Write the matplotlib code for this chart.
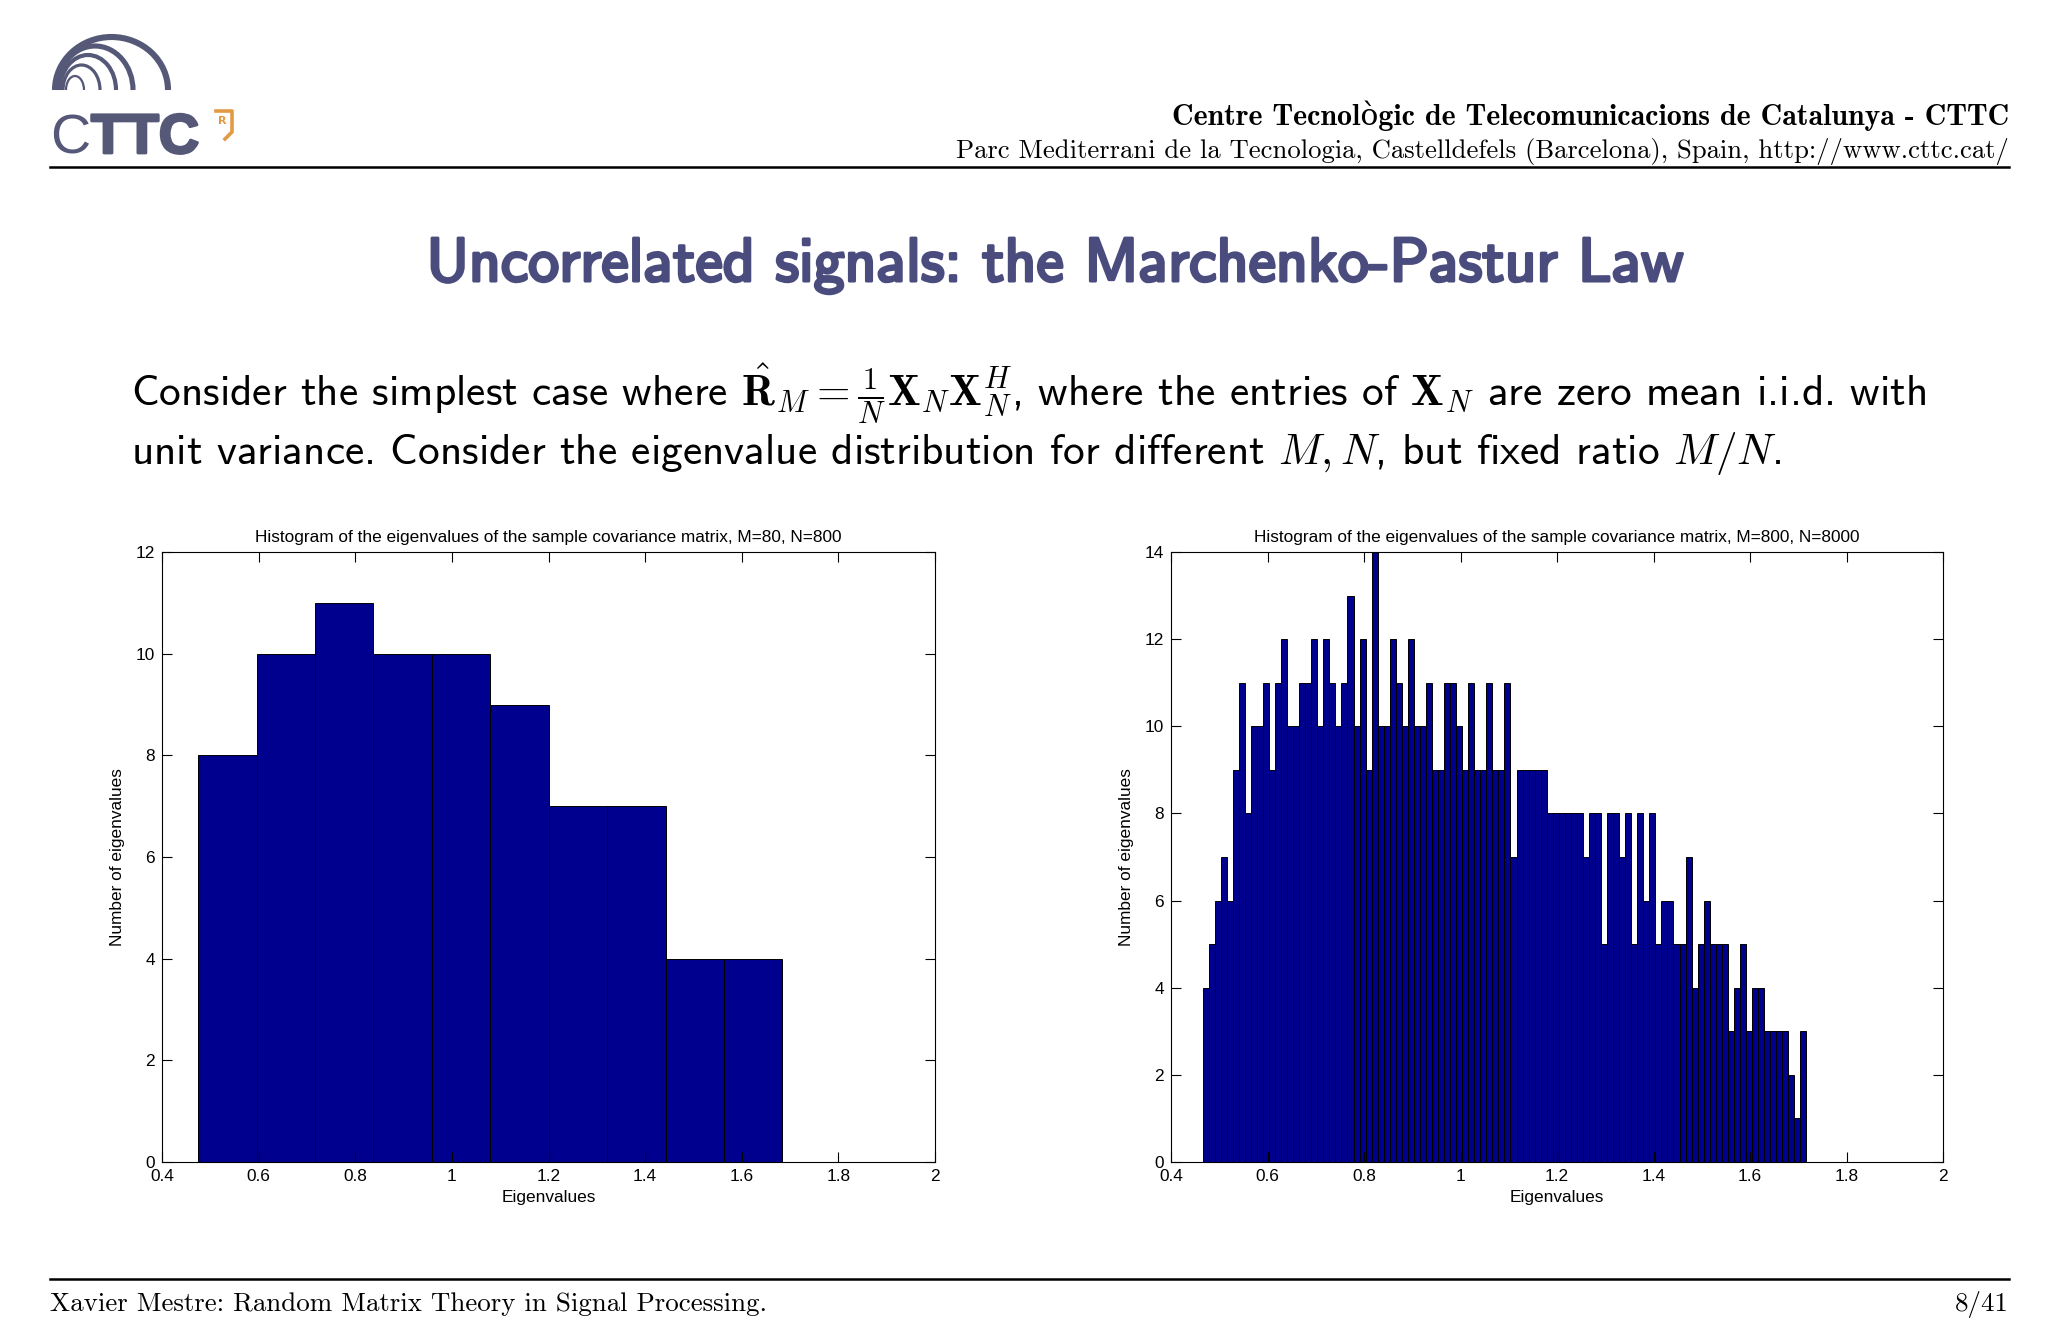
import numpy as np
import matplotlib
matplotlib.use('Agg')
import matplotlib.pyplot as plt
from matplotlib.lines import Line2D
from matplotlib.patches import Arc
from matplotlib.ticker import FuncFormatter, MultipleLocator
import matplotlib.patheffects as pe

plt.rcParams['mathtext.fontset'] = 'cm'

W, H = 2048, 1340

# histogram data
left_counts = [8, 10, 11, 10, 10, 9, 7, 7, 4, 4]
left_lo, left_hi = 0.475, 1.684

right_counts = [4, 5, 6, 7, 6, 9, 11, 8, 10, 10,
                11, 9, 11, 12, 10, 10, 11, 11, 12, 10,
                12, 11, 10, 11, 13, 10, 12, 9, 14, 10,
                10, 12, 11, 10, 12, 10, 10, 11, 9, 9,
                11, 11, 10, 9, 11, 9, 9, 11, 9, 9,
                11, 7, 9, 9, 9, 9, 9, 8, 8, 8,
                8, 8, 8, 7, 8, 8, 5, 8, 8, 7,
                8, 5, 8, 6, 8, 5, 6, 6, 5, 5,
                7, 4, 5, 6, 5, 5, 5, 3, 4, 5,
                3, 4, 4, 3, 3, 3, 3, 2, 1, 3]
right_lo, right_hi = 0.4655, 1.7167

left_title = 'Histogram of the eigenvalues of the sample covariance matrix, M=80, N=800'
right_title = 'Histogram of the eigenvalues of the sample covariance matrix, M=800, N=8000'
x_ticks = [0.4, 0.6, 0.8, 1.0, 1.2, 1.4, 1.6, 1.8, 2.0]

bar_color = '#00008f'
title_color = '#4b4c7e'
logo_color = '#555877'
orange = '#e39a45'


def fx(x):
    return x / W


def fy(y):
    return 1 - y / H


def box(x0, y0, x1, y1):
    return [fx(x0), fy(y1), (x1 - x0) / W, (y1 - y0) / H]


fig = plt.figure(figsize=(W / 100, H / 100), dpi=100)

# ---- header ----
lax = fig.add_axes(box(40, 20, 260, 170))
lax.set_xlim(40, 260)
lax.set_ylim(170, 20)
lax.axis('off')
arcs = [(66, 84, 76), (63, 100, 65), (60, 116, 55), (57, 133, 46), (55, 168, 37)]
for i, (l, r, t) in enumerate(arcs):
    cx = (l + r) / 2
    lax.add_patch(Arc((cx, 90), r - l, 2 * (90 - t), theta1=180, theta2=360,
                      color=logo_color, lw=1.6 + 0.7 * i))
lax.text(50, 153, 'C', fontsize=40, family='Liberation Sans', color=logo_color, va='baseline')
lax.text(91, 153, 'TTC', fontsize=40, family='Liberation Sans', weight='bold',
         color=logo_color, va='baseline',
         path_effects=[pe.withStroke(linewidth=2.0, foreground=logo_color)])
lax.text(218, 124, 'R', fontsize=8, family='DejaVu Sans', weight='bold', color=orange,
         va='baseline')
lax.plot([216, 232, 232, 225], [111, 111, 132, 139], color=orange, lw=2.6)

fig.text(fx(2009), fy(125), 'Centre Tecnològic de Telecomunicacions de Catalunya - CTTC',
         family=['cmb10', 'DejaVu Serif'], fontsize=21.5, ha='right', va='baseline')
fig.text(fx(2009), fy(158),
         'Parc Mediterrani de la Tecnologia, Castelldefels (Barcelona), Spain, http://www.cttc.cat/',
         family=['cmr10', 'DejaVu Serif'], fontsize=19.2, ha='right', va='baseline')
fig.add_artist(Line2D([fx(50), fx(2009)], [fy(167), fy(167)], color='black', lw=1.8))

# ---- title and text ----
fig.text(fx(1055), fy(281), 'Uncorrelated signals: the Marchenko-Pastur Law',
         family='cmss10', fontsize=44.5, color=title_color, ha='center', va='baseline',
         path_effects=[pe.withStroke(linewidth=2.2, foreground=title_color)])

fig.text(fx(131), fy(406),
         r'Consider the simplest case where $\hat{\mathbf{R}}_M = \frac{1}{N}\mathbf{X}_N\mathbf{X}_N^H$,'
         r' where the entries of $\mathbf{X}_N$ are zero mean i.i.d. with',
         family='cmss10', fontsize=31.2, va='baseline')
fig.text(fx(131), fy(464),
         r'unit variance. Consider the eigenvalue distribution for different $M, N$, but fixed ratio $M/N$.',
         family='cmss10', fontsize=31.2, va='baseline')


# ---- histograms ----
def draw_hist(ax, counts, lo, hi, title, ytop):
    edges = np.linspace(lo, hi, len(counts) + 1)
    ax.bar(edges[:-1], counts, width=np.diff(edges), align='edge',
           color=bar_color, edgecolor='black', linewidth=0.7)
    ax.set_xlim(0.4, 2.0)
    ax.set_ylim(0, ytop)
    ax.set_xticks(x_ticks)
    ax.yaxis.set_major_locator(MultipleLocator(2))
    ax.xaxis.set_major_formatter(FuncFormatter(lambda v, p: '%g' % v))
    ax.tick_params(direction='in', top=True, right=True, length=7, width=0.8,
                   labelsize=12.4, pad=5)
    for s in ax.spines.values():
        s.set_linewidth(0.8)
    ax.set_title(title, fontsize=12.4, pad=7)
    ax.set_xlabel('Eigenvalues', fontsize=12.4, labelpad=4.5)
    ax.set_ylabel('Number of eigenvalues', fontsize=12.4, labelpad=8)
    for lab in ax.get_xticklabels() + ax.get_yticklabels():
        lab.set_family('Liberation Sans')
    for t in (ax.title, ax.xaxis.label, ax.yaxis.label):
        t.set_family('Liberation Sans')


ax1 = fig.add_axes(box(162, 552, 935, 1162))
draw_hist(ax1, left_counts, left_lo, left_hi, left_title, 12)
ax2 = fig.add_axes(box(1171, 552, 1943, 1162))
draw_hist(ax2, right_counts, right_lo, right_hi, right_title, 14)

# ---- footer ----
fig.add_artist(Line2D([fx(50), fx(2009)], [fy(1279), fy(1279)], color='black', lw=1.8))
fig.text(fx(50), fy(1311), 'Xavier Mestre: Random Matrix Theory in Signal Processing.',
         family=['cmr10', 'DejaVu Serif'], fontsize=19.4, va='baseline')
fig.text(fx(2009), fy(1311), '8/41', family=['cmr10', 'DejaVu Serif'], fontsize=19.4,
         ha='right', va='baseline')

fig.savefig('out.png', dpi=100, facecolor='white')
